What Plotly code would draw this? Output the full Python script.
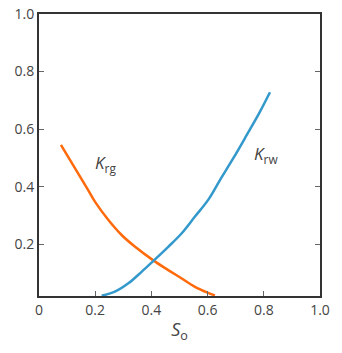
import plotly.graph_objects as go

# Relative permeability curves vs. oil saturation
so_krg = [0.078, 0.175, 0.199, 0.247, 0.294, 0.342, 0.408, 0.460, 0.508, 0.555, 0.602, 0.626]
krg = [0.545, 0.388, 0.348, 0.284, 0.232, 0.191, 0.143, 0.110, 0.081, 0.052, 0.031, 0.022]

so_krw = [0.223, 0.270, 0.318, 0.365, 0.408, 0.460, 0.508, 0.555, 0.602, 0.644, 0.691, 0.739, 0.786, 0.822]
krw = [0.021, 0.035, 0.064, 0.104, 0.143, 0.191, 0.238, 0.296, 0.354, 0.423, 0.498, 0.579, 0.660, 0.728]

x_ticks = [0, 0.2, 0.4, 0.6, 0.8, 1.0]
x_tick_text = ["0", "0.2", "0.4", "0.6", "0.8", "1.0"]
y_ticks = [0.2, 0.4, 0.6, 0.8, 1.0]

FONT = "Open Sans"
TEXT = "#444444"

fig = go.Figure()
fig.add_trace(go.Scatter(x=so_krg, y=krg, mode="lines", line_shape="spline",
                         line=dict(color="#FF6A0D", width=2.5), name="Krg"))
fig.add_trace(go.Scatter(x=so_krw, y=krw, mode="lines", line_shape="spline",
                         line=dict(color="#3399CC", width=2.5), name="Krw"))

fig.add_annotation(x=0.238, y=0.479, text="<i>K</i><sub>rg</sub>", showarrow=False,
                   font=dict(family=FONT, size=17, color=TEXT))
fig.add_annotation(x=0.808, y=0.513, text="<i>K</i><sub>rw</sub>", showarrow=False,
                   font=dict(family=FONT, size=17, color=TEXT))

fig.update_layout(
    width=342, height=353,
    margin=dict(l=39, r=22, t=14, b=57, autoexpand=False),
    paper_bgcolor="white", plot_bgcolor="white",
    showlegend=False,
    font=dict(family=FONT, size=14, color=TEXT),
    xaxis=dict(range=[0, 1], tickvals=x_ticks, ticktext=x_tick_text,
               automargin=False, showgrid=False, zeroline=False,
               showline=True, linecolor="#333333", linewidth=2, mirror=True,
               ticks="inside", ticklen=5, tickcolor="#666666", tickwidth=1,
               title=dict(text="<i>S</i><sub>o</sub>", standoff=6,
                          font=dict(family=FONT, size=18, color=TEXT))),
    yaxis=dict(range=[0.02, 1.0], tickvals=y_ticks, tickformat=".1f",
               automargin=False, showgrid=False, zeroline=False,
               showline=True, linecolor="#333333", linewidth=2, mirror="ticks",
               ticks="inside", ticklen=5, tickcolor="#666666", tickwidth=1),
)

fig.write_html("out.html")
